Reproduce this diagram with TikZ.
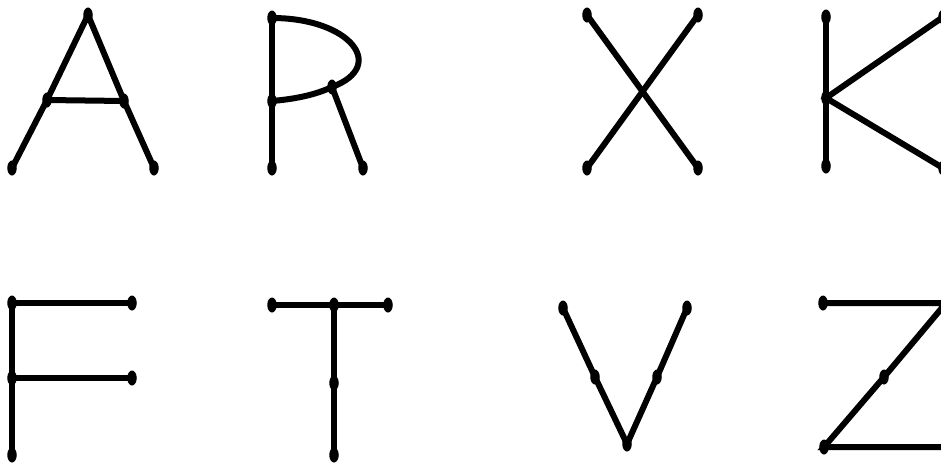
\documentclass[tikz,border=0pt]{standalone}
\usetikzlibrary{shapes.geometric,backgrounds}
\begin{document}
\begin{tikzpicture}[x=1pt,y=-1pt,
  vtx/.style={ellipse,fill=black,draw=none,inner sep=0pt,minimum width=9.5pt,minimum height=15pt},
  edge/.style={line width=6pt,line cap=round,black}]
\useasboundingbox (0,0) rectangle (941,467);
% A
\node[vtx] (at) at (88,15) {};
\node[vtx] (al) at (47,100) {};
\node[vtx] (ar) at (124,101) {};
\node[vtx] (abl) at (12,168) {};
\node[vtx] (abr) at (154,168) {};
% R
\node[vtx] (rt) at (272,18) {};
\node[vtx] (rm) at (272,101) {};
\node[vtx] (rb) at (272,168) {};
\node[vtx] (rc) at (332,87) {};
\node[vtx] (rr) at (363,168) {};
% X
\node[vtx] (xtl) at (587,15) {};
\node[vtx] (xtr) at (698,15) {};
\node[vtx] (xbl) at (587,168) {};
\node[vtx] (xbr) at (698,168) {};
% K
\node[vtx] (kt) at (826,17) {};
\node[vtx] (km) at (826,98) {};
\node[vtx] (kb) at (826,166) {};
\node[vtx] (ktr) at (943,17) {};
\node[vtx] (kbr) at (943,168) {};
% F
\node[vtx] (ft) at (12,303) {};
\node[vtx] (fm) at (12,378) {};
\node[vtx] (fb) at (12,455) {};
\node[vtx] (ftr) at (132,303) {};
\node[vtx] (fmr) at (132,378) {};
% T
\node[vtx] (tl) at (272,305) {};
\node[vtx] (tc) at (334,305) {};
\node[vtx] (tr) at (388,305) {};
\node[vtx] (tm) at (334,383) {};
\node[vtx] (tb) at (334,455) {};
% V
\node[vtx] (vtl) at (563,308) {};
\node[vtx] (vtr) at (687,308) {};
\node[vtx] (vml) at (595,377) {};
\node[vtx] (vmr) at (657,377) {};
\node[vtx] (vb) at (627,444) {};
% Z
\node[vtx] (ztl) at (823,303) {};
\node[vtx] (ztr) at (946,303) {};
\node[vtx] (zm) at (884,377) {};
\node[vtx] (zbl) at (824,447) {};
\node[vtx] (zbr) at (946,447) {};
\begin{scope}[on background layer]
\draw[edge] (abl.center) -- (al.center) -- (at.center) -- (ar.center) -- (abr.center);
\draw[edge] (al.center) -- (ar.center);
\draw[edge] (rt.center) -- (rm.center) -- (rb.center);
\draw[edge] (rt.center) .. controls (350,18) and (388,66) .. (rc.center);
\draw[edge] (rc.center) .. controls (315,95) and (295,99) .. (rm.center);
\draw[edge] (rc.center) -- (rr.center);
\draw[edge] (xtl.center) -- (xbr.center);
\draw[edge] (xtr.center) -- (xbl.center);
\draw[edge] (kt.center) -- (km.center) -- (kb.center);
\draw[edge] (ktr.center) -- (km.center) -- (kbr.center);
\draw[edge] (ftr.center) -- (ft.center) -- (fm.center) -- (fb.center);
\draw[edge] (fm.center) -- (fmr.center);
\draw[edge] (tl.center) -- (tc.center) -- (tr.center);
\draw[edge] (tc.center) -- (tm.center) -- (tb.center);
\draw[edge] (vtl.center) -- (vml.center) -- (vb.center) -- (vmr.center) -- (vtr.center);
\draw[edge] (ztl.center) -- (ztr.center) -- (zm.center) -- (zbl.center) -- (zbr.center);
\end{scope}
\end{tikzpicture}
\end{document}
